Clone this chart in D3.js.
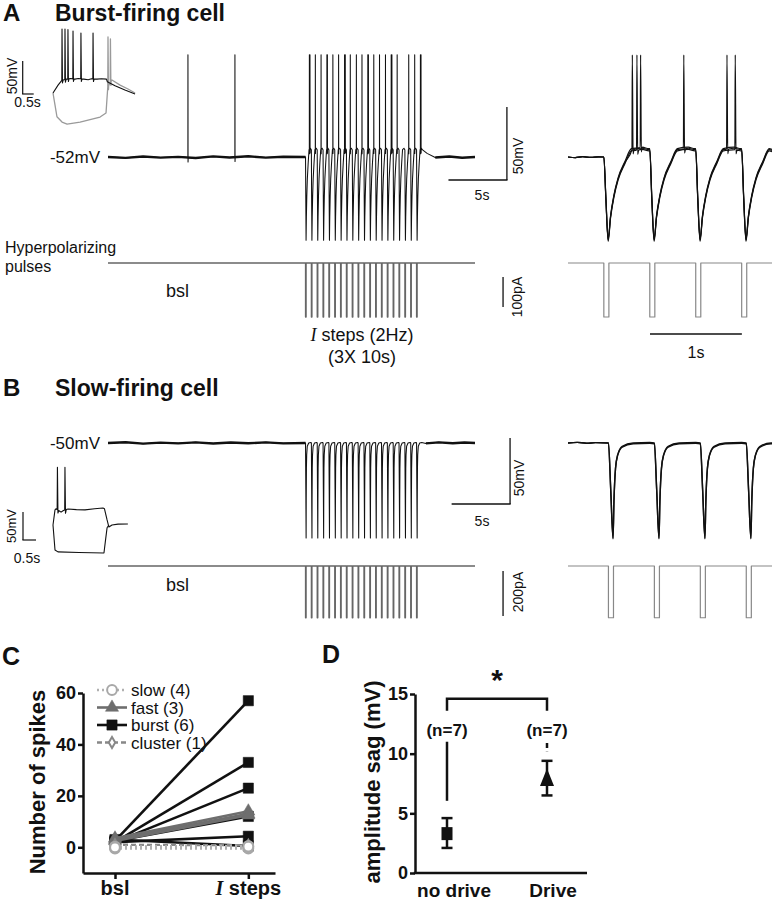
<!DOCTYPE html>
<html><head><meta charset="utf-8">
<script src="https://cdn.jsdelivr.net/npm/d3@7/dist/d3.min.js"></script>
<style>html,body{margin:0;padding:0;background:#fff;}svg{display:block;}</style>
</head><body>
<svg id="fig" width="772" height="900" xmlns="http://www.w3.org/2000/svg"></svg>
<script>
// ================= DATA =================
// Stimulus protocol: hyperpolarizing current pulses at 2 Hz (time, s)
const pulseOnsets = [16.9,17.4,17.9,18.4,18.9,19.4,19.9,20.4,20.9,21.4,21.9,22.4,22.9,23.4,23.9,24.4,24.9,25.4,25.9,26.4];
const pulseWidth = 0.05;
const traceEnd = 31.4;

// Panel A main trace (mV)
const baselineA = [[0,-52],[1.5,-52.6],[3,-51.7],[4.5,-52.4],[6,-51.9],[7.5,-52.7],[9,-51.6],[10.4,-52.3],[12,-51.5],[13.5,-52.4],[15,-51.8],[16.9,-52]];
const tailA = [[27.3,-49.5],[28.0,-52.3],[29.2,-51.7],[30.3,-52.5],[31.4,-52]];
const spontSpikesA = [6.84, 10.86];
// response of the burst cell to one pulse: [time after onset (s), mV]
const burstCycle = [[0,-47],[0.022,-80],[0.047,-109],[0.073,-93],[0.109,-79],[0.155,-67],[0.228,-56],[0.3,-47],[0.42,-46],[0.49,-47]];
const burstSpikeDelays = [[0.33,0.38],[0.34],[0.33],[0.33,0.37],[0.34],[0.33],[0.34,0.4],[0.33],[0.35],[0.33],[0.33,0.38],[0.34],[0.33],[0.34],[0.33,0.39],[0.34],[],[0.33],[0.34],[0.33,0.38]];
const burstSpikePeak = 18;

// Panel A expanded traces (3 sweeps)
const zoomPulsesA = [0.39,0.89,1.39,1.89];
const zoomBaseA = [[0,-52],[0.08,-52.4],[0.16,-51.8],[0.25,-52.3],[0.33,-51.9],[0.39,-52]];
const zoomSpikesA = [[0.70,1.26,1.73],[0.75,1.82],[0.79]];
const zoomOffsetsA = [0,-0.8,0.7];
const zoomEnd = 2.22;

// Currents (pA)
const currentStepA = -180;
const currentStepB = -230;

// Panel B main trace (mV)
const baselineB = [[0,-50],[1.5,-49.4],[3,-50.5],[4.5,-49.7],[6,-50.3],[7.5,-49.5],[9,-50.4],[10.5,-49.6],[12,-50.2],[13.5,-49.5],[15,-50.3],[16.9,-50]];
const tailB = [[27.2,-50.3],[28.3,-49.5],[29.5,-50.2],[30.5,-49.6],[31.4,-50]];
const slowCycle = [[0,-50],[0.025,-85],[0.05,-122],[0.06,-94],[0.077,-69],[0.1,-59],[0.15,-52.5],[0.27,-50],[0.45,-49.6]];
const zoomPulsesB = [0.44,0.94,1.44,1.94];
const zoomBaseB = [[0,-50],[0.1,-49.5],[0.2,-50.2],[0.3,-49.7],[0.44,-50]];
const zoomOffsetsB = [0,-0.6];

// Insets: current-step responses
const insetADepol = [[0,-60],[0.23,-48],[0.39,-41],[0.5,-40],[0.62,-39],[0.8,-38],[1.0,-39],[1.15,-38],[1.4,-39],[1.6,-40],[1.75,-38.5],[2.0,-39],[2.2,-38.5],[2.43,-39],[2.47,-43],[2.82,-49],[3.27,-55.5],[3.73,-61.5]];
const insetADepolSpikes = [0.41,0.545,0.68,0.91,1.27,1.82];
const insetADepolPeaks = [37,37,36,34,31,31];
const insetAHyper = [[0,-60],[0.09,-78],[0.18,-96],[0.41,-104],[0.64,-107],[1.23,-104],[2.14,-96.4],[2.41,-90.3],[2.45,-70.6],[2.48,-52],[2.68,-40.3],[3.05,-48],[3.41,-54],[3.73,-60]];
const insetAHyperSpikes = [2.5,2.61];
const insetAHyperPeaks = [25,22];
const insetBDepol = [[0,-60],[0.077,-33],[0.12,-31],[0.31,-37],[0.4,-34],[0.58,-31.4],[0.9,-32.5],[1.23,-33],[1.6,-31],[1.92,-29.6],[1.98,-31],[2.08,-51],[2.15,-63.6],[2.27,-60],[2.5,-58.5],[2.88,-58.2]];
const insetBDepolSpikes = [0.17,0.46];
const insetBDepolPeaks = [43,43];
const insetBHyper = [[0,-60],[0.077,-104.6],[0.19,-108],[1.0,-109],[1.96,-110],[2.02,-87],[2.08,-65],[2.15,-60]];

// Panel C: number of spikes [bsl, I steps] per cell
const cCategories = ["bsl","I steps"];
const cTicks = [0,20,40,60];
const slowCells = [[-0.5,-0.5],[0,0],[0.3,0.5],[0,0.3]];
const fastCells = [[3.5,14],[3,13],[2.5,12.5]];
const burstCells = [[2.5,57],[2,33],[2,23],[2.5,12],[2,4.3],[3,0.5]];
const clusterCells = [[1,0.8]];
const cLegend = ["slow (4)","fast (3)","burst (6)","cluster (1)"];

// Panel D: amplitude sag (mV)
const dCategories = ["no drive","Drive"];
const dMeans = [3.3, 8.0];
const dLow = [2.1, 6.5];
const dHigh = [4.6, 9.4];
const dN = ["(n=7)","(n=7)"];
const dNLineTop = [11.0, 10.9];
const dNLineBottom = [6.05, 10.2];
const dTicks = [0,5,10,15];

// ================= DRAWING =================
const svg = d3.select("#fig");
const F = "'Liberation Sans', Arial, Helvetica, sans-serif";
const SERIF = "'Liberation Serif', 'Times New Roman', serif";
const INK = "#111";

function T(x, y, s, size, o = {}) {
  const t = svg.append("text").text(s).attr("font-family", F).attr("font-size", size).attr("fill", INK);
  if (o.rot) t.attr("transform", `translate(${x},${y}) rotate(${o.rot})`);
  else t.attr("x", x).attr("y", y);
  if (o.bold) t.attr("font-weight", "bold");
  if (o.anchor) t.attr("text-anchor", o.anchor);
  return t;
}
function L(x1, y1, x2, y2, w = 1.2, c = INK) {
  return svg.append("line").attr("x1", x1).attr("y1", y1).attr("x2", x2).attr("y2", y2)
    .attr("stroke", c).attr("stroke-width", w);
}
function interp(pts, t) {
  const i = d3.bisector(d => d[0]).left(pts, t);
  if (i <= 0) return pts[0][1];
  if (i >= pts.length) return pts[pts.length - 1][1];
  const a = pts[i - 1], b = pts[i];
  return a[1] + (b[1] - a[1]) * (t - a[0]) / (b[0] - a[0]);
}
function withSpikes(base, times, peaks, o) {
  const src = base.slice().sort((a, b) => a[0] - b[0]);
  let pts = src.slice();
  times.forEach((ts, i) => {
    const pk = Array.isArray(peaks) ? peaks[i] : peaks;
    const v0 = interp(src, ts), v1 = interp(src, ts + o.win);
    pts = pts.filter(d => d[0] < ts - o.win || d[0] > ts + o.win);
    pts.push([ts - o.rise, v0], [ts, pk], [ts + o.fall, v0 - o.ahp], [ts + o.win, v1]);
  });
  return pts.sort((a, b) => a[0] - b[0]);
}
function stimTrace(onsets, cycle, dv, tEnd) {
  const pts = [];
  onsets.forEach((p, i) => {
    const next = i < onsets.length - 1 ? onsets[i + 1] : tEnd;
    cycle.forEach(([dt, v], j) => {
      if (i === 0 && j === 0) return;
      const t = p + dt;
      if (t < next - 1e-9) pts.push([t, v + dv]);
    });
  });
  return pts;
}
function currentTrace(onsets, w, amp, t0, t1) {
  const pts = [[t0, 0]];
  onsets.forEach(p => { pts.push([p, 0], [p, amp], [p + w, amp], [p + w, 0]); });
  pts.push([t1, 0]);
  return pts;
}
function drawTrace(pts, xs, ys, color, width, curve = d3.curveLinear) {
  svg.append("path")
    .attr("d", d3.line().x(d => xs(d[0])).y(d => ys(d[1])).curve(curve)(pts))
    .attr("fill", "none").attr("stroke", color).attr("stroke-width", width)
    .attr("stroke-linejoin", "round").attr("stroke-linecap", "butt");
}

// ---------- scales ----------
const xMain = d3.scaleLinear().domain([0, traceEnd]).range([108, 475]);
const yA = d3.scaleLinear().domain([-52, -2]).range([157, 84]);
const yB = d3.scaleLinear().domain([-50, 0]).range([443, 377]);
const yIA = d3.scaleLinear().domain([0, -100]).range([263, 293]);
const yIB = d3.scaleLinear().domain([0, -200]).range([566, 611]);
const xZoom = d3.scaleLinear().domain([0, zoomEnd]).range([568, 772]);
const xInA = d3.scaleLinear().domain([0, 1]).range([53, 75]);
const yInA = d3.scaleLinear().domain([-60, -10]).range([93, 60]);
const xInB = d3.scaleLinear().domain([0, 1]).range([53, 79]);
const yInB = d3.scaleLinear().domain([-60, -10]).range([525, 497]);

// ---------- titles ----------
T(3, 21, "A", 24, {bold: true});
T(55, 21, "Burst-firing cell", 23, {bold: true});
T(3, 396, "B", 24, {bold: true});
T(55, 396, "Slow-firing cell", 23, {bold: true});
T(2, 665, "C", 25, {bold: true});
T(322, 663, "D", 25, {bold: true});

// ---------- Panel A ----------
// inset
drawTrace(withSpikes(insetAHyper, insetAHyperSpikes, insetAHyperPeaks, {rise: 0.01, fall: 0.02, win: 0.03, ahp: 4}), xInA, yInA, "#9a9a9a", 1.3);
drawTrace(withSpikes(insetADepol, insetADepolSpikes, insetADepolPeaks, {rise: 0.01, fall: 0.02, win: 0.05, ahp: 4}), xInA, yInA, INK, 1.1);
{
  const bx = 22.7, by = yInA(-61.5);
  L(bx, by, bx, by - (yInA(-60) - yInA(-10)), 1.2);
  L(bx - 0.6, by, bx + (xInA(0.5) - xInA(0)), by, 1.2);
  T(17, 76, "50mV", 14, {rot: -90, anchor: "middle"});
  T(27.5, 107, "0.5s", 14, {anchor: "middle"});
}
T(100, 163, "-52mV", 17, {anchor: "end"});

// main voltage trace A
{
  const stim = stimTrace(pulseOnsets, burstCycle, 0, 26.9);
  const base = baselineA.concat(stim, tailA);
  const spikes = spontSpikesA.slice();
  pulseOnsets.forEach((p, i) => burstSpikeDelays[i].forEach(d => spikes.push(p + d)));
  const pts = withSpikes(base, spikes, burstSpikePeak, {rise: 0.004, fall: 0.008, win: 0.02, ahp: 3});
  drawTrace(pts, xMain, yA, INK, 1.05);
  drawTrace(baselineA, xMain, yA, INK, 2.4);
  drawTrace(tailA.slice(1), xMain, yA, INK, 2.4);
}
// scale bar A
{
  const cx = xMain(34.13), cy = yA(-67.75);
  L(cx, cy, cx, yA(-17.75), 1.3);
  L(xMain(29.13), cy, cx + 0.6, cy, 1.3);
  T(523, 156, "50mV", 14, {rot: -90, anchor: "middle"});
  T(482, 200, "5s", 14, {anchor: "middle"});
}
// current trace A
drawTrace(currentTrace(pulseOnsets, pulseWidth, currentStepA, 0, traceEnd), xMain, yIA, "#666", 1.3);
T(5, 253, "Hyperpolarizing", 16);
T(5, 272, "pulses", 16);
T(166, 297, "bsl", 18);
{
  const t = T(362, 341, "", 18, {anchor: "middle"});
  t.append("tspan").attr("font-family", SERIF).attr("font-style", "italic").text("I");
  t.append("tspan").text(" steps (2Hz)");
  T(362, 363, "(3X 10s)", 18, {anchor: "middle"});
}
{
  const bx = xMain(33.8);
  L(bx, yIA(-47), bx, yIA(-147), 1.3);
  T(522, 297, "100pA", 14, {rot: -90, anchor: "middle"});
}
// expanded traces A
zoomOffsetsA.forEach((dv, k) => {
  const base = zoomBaseA.concat(stimTrace(zoomPulsesA, burstCycle, dv, zoomEnd), [[zoomEnd, -47.5 + dv]]);
  const pts = withSpikes(base, zoomSpikesA[k], burstSpikePeak, {rise: 0.004, fall: 0.008, win: 0.02, ahp: 3});
  drawTrace(pts, xZoom, yA, INK, 1.2, d3.curveMonotoneX);
});
drawTrace(currentTrace(zoomPulsesA, 0.055, currentStepA, 0, zoomEnd), xZoom, yIA, "#888", 1.2);
{
  const y1s = 334;
  L(xZoom(0.892), y1s, xZoom(1.892), y1s, 1.3);
  T(696, 358, "1s", 16, {anchor: "middle"});
}

// ---------- Panel B ----------
drawTrace(insetBHyper, xInB, yInB, INK, 1.1);
drawTrace(withSpikes(insetBDepol, insetBDepolSpikes, insetBDepolPeaks, {rise: 0.01, fall: 0.02, win: 0.05, ahp: 6}), xInB, yInB, INK, 1.1);
{
  const bx = 23, by = 540;
  L(bx, by, bx, by - (yInB(-60) - yInB(-10)), 1.2);
  L(bx - 0.6, by, bx + (xInB(0.5) - xInB(0)), by, 1.2);
  T(16, 526, "50mV", 13, {rot: -90, anchor: "middle"});
  T(27, 563, "0.5s", 14, {anchor: "middle"});
}
T(100, 449, "-50mV", 17, {anchor: "end"});
{
  const stim = stimTrace(pulseOnsets, slowCycle, 0, 26.9);
  const pts = baselineB.concat(stim, tailB).sort((a, b) => a[0] - b[0]);
  drawTrace(pts, xMain, yB, INK, 1.05);
  drawTrace(baselineB, xMain, yB, INK, 2.4);
  drawTrace(tailB, xMain, yB, INK, 2.4);
}
{
  const cx = xMain(34.4), cy = yB(-96.2);
  L(cx, cy, cx, yB(-46.2), 1.3);
  L(xMain(29.4), cy, cx + 0.6, cy, 1.3);
  T(524, 478, "50mV", 14, {rot: -90, anchor: "middle"});
  T(482, 526, "5s", 14, {anchor: "middle"});
}
drawTrace(currentTrace(pulseOnsets, pulseWidth, currentStepB, 0, traceEnd), xMain, yIB, "#666", 1.3);
T(166, 591, "bsl", 18);
{
  const bx = xMain(33.8);
  L(bx, yIB(-22), bx, yIB(-222), 1.3);
  T(523, 592, "200pA", 14, {rot: -90, anchor: "middle"});
}
zoomOffsetsB.forEach(dv => {
  const base = zoomBaseB.concat(stimTrace(zoomPulsesB, slowCycle, dv, zoomEnd), [[zoomEnd, -50 + dv]]);
  drawTrace(base.sort((a, b) => a[0] - b[0]), xZoom, yB, INK, 1.4, d3.curveMonotoneX);
});
drawTrace(currentTrace(zoomPulsesB, 0.055, currentStepB, 0, zoomEnd), xZoom, yIB, "#888", 1.2);

// ---------- Panel C ----------
const xC = d3.scaleLinear().domain([-0.24, 1.2]).range([83, 275]);
const yC = d3.scaleLinear().domain([-10, 60]).range([873, 693]);
const gCy = svg.append("g").attr("transform", `translate(${xC(-0.24)},0)`)
  .call(d3.axisLeft(yC).tickValues(cTicks).tickSize(5).tickPadding(2).tickSizeOuter(0));
const gCx = svg.append("g").attr("transform", `translate(0,${yC(-10)})`)
  .call(d3.axisBottom(xC).tickValues([0, 1]).tickFormat("").tickSize(6).tickSizeOuter(0));
[gCy, gCx].forEach(g => {
  g.selectAll("path,line").attr("stroke", INK).attr("stroke-width", 2.5);
  g.selectAll("text").attr("font-family", F).attr("font-size", 18).attr("font-weight", "bold").attr("fill", INK);
});
T(xC(0), 895, "bsl", 20, {bold: true, anchor: "middle"});
{
  const t = T(xC(1), 895, "", 20, {bold: true, anchor: "middle"});
  t.append("tspan").attr("font-family", SERIF).attr("font-style", "italic").text("I");
  t.append("tspan").text(" steps");
}
T(45, 782, "Number of spikes", 22, {bold: true, anchor: "middle", rot: -90});

const styles = {
  slow:    {stroke: "#b0b0b0", width: 2.5, dash: "2,3", sym: d3.symbolCircle, size: 75, fill: "#fff", mstroke: "#a8a8a8"},
  fast:    {stroke: "#6e6e6e", width: 2.6, dash: null, sym: d3.symbolTriangle, size: 75, fill: "#6e6e6e", mstroke: "#6e6e6e"},
  burst:   {stroke: "#111", width: 2.6, dash: null, sym: d3.symbolSquare, size: 105, fill: "#111", mstroke: "#111"},
  cluster: {stroke: "#888", width: 2.3, dash: "5,3", sym: d3.symbolDiamond, size: 36, fill: "#fff", mstroke: "#888"}
};
function drawCells(cells, st) {
  cells.forEach(c => {
    svg.append("path").attr("d", d3.line().x((d, i) => xC(i)).y(d => yC(d))(c))
      .attr("fill", "none").attr("stroke", st.stroke).attr("stroke-width", st.width)
      .attr("stroke-dasharray", st.dash);
  });
  cells.forEach(c => c.forEach((v, i) => {
    svg.append("path").attr("d", d3.symbol(st.sym, st.size)())
      .attr("transform", `translate(${xC(i)},${yC(v)})`)
      .attr("fill", st.fill).attr("stroke", st.mstroke).attr("stroke-width", st.fill === "#fff" ? 2 : 0.5);
  }));
}
drawCells(burstCells, styles.burst);
drawCells(fastCells, styles.fast);
drawCells(clusterCells, styles.cluster);
drawCells(slowCells, styles.slow);
// legend
const legendKeys = ["slow", "fast", "burst", "cluster"];
const legendRowsY = [690, 707.5, 725, 742.5];
legendKeys.forEach((k, i) => {
  const st = styles[k], y = legendRowsY[i];
  svg.append("line").attr("x1", 97).attr("x2", 127).attr("y1", y).attr("y2", y)
    .attr("stroke", st.stroke).attr("stroke-width", st.width).attr("stroke-dasharray", st.dash);
  svg.append("path").attr("d", d3.symbol(st.sym, st.size)()).attr("transform", `translate(112,${y})`)
    .attr("fill", st.fill).attr("stroke", st.mstroke).attr("stroke-width", st.fill === "#fff" ? 2 : 0.5);
  T(131, y + 6, cLegend[i], 17);
});

// ---------- Panel D ----------
const xD = d3.scaleLinear().domain([-0.32, 1.4]).range([415, 587]);
const yD = d3.scaleLinear().domain([0, 15]).range([873, 694]);
const gDy = svg.append("g").attr("transform", `translate(${xD(-0.32)},0)`)
  .call(d3.axisLeft(yD).tickValues(dTicks).tickSize(5).tickPadding(2).tickSizeOuter(0));
gDy.selectAll("path,line").attr("stroke", INK).attr("stroke-width", 2.5);
gDy.selectAll("text").attr("font-family", F).attr("font-size", 18).attr("font-weight", "bold").attr("fill", INK);
L(xD(-0.32) - 1.2, yD(0), xD(1.4), yD(0), 2.5);
dCategories.forEach((c, i) => T(xD(i) + (i === 0 ? 7 : 6), 897, c, 19, {bold: true, anchor: "middle"}));
T(380, 782, "amplitude sag (mV)", 22, {bold: true, anchor: "middle", rot: -90});
dMeans.forEach((m, i) => {
  const x = xD(i);
  L(x, yD(dLow[i]), x, yD(dHigh[i]), 2.5);
  L(x - 5.5, yD(dLow[i]), x + 5.5, yD(dLow[i]), 2.5);
  L(x - 5.5, yD(dHigh[i]), x + 5.5, yD(dHigh[i]), 2.5);
  const y = yD(m);
  if (i === 0) {
    svg.append("rect").attr("x", x - 5.5).attr("y", y - 6.5).attr("width", 11).attr("height", 13).attr("fill", INK);
  } else {
    svg.append("path").attr("d", `M${x},${y - 9}L${x + 7},${y + 8.5}L${x - 7},${y + 8.5}Z`).attr("fill", INK);
  }
  const nl = L(x, yD(dNLineTop[i]), x, yD(dNLineBottom[i]), 2.5);
  if (i === 1) nl.attr("stroke-dasharray", "5,3");
  T(x, yD(11.5), dN[i], 17, {bold: true, anchor: "middle"});
});
{
  const yb = yD(14.6), yl = yD(13.6);
  svg.append("path").attr("d", `M${xD(0)},${yl}V${yb}H${xD(1)}V${yl}`)
    .attr("fill", "none").attr("stroke", INK).attr("stroke-width", 2.5);
  T((xD(0) + xD(1)) / 2, 690, "*", 30, {bold: true, anchor: "middle"});
}
</script>
</body></html>
